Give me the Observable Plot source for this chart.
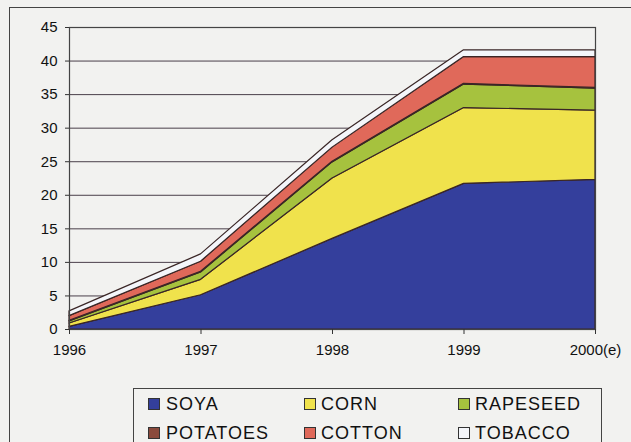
<!DOCTYPE html>
<html><head><meta charset="utf-8">
<script src="https://cdn.jsdelivr.net/npm/d3@7"></script>
<script src="https://cdn.jsdelivr.net/npm/@observablehq/plot@0.6"></script>
<style>
body{margin:0;background:#f2f2f0;font-family:"Liberation Sans",Arial,sans-serif;}
#wrap{position:relative;width:631px;height:442px;overflow:hidden;}
#border{position:absolute;left:9px;top:7px;width:700px;height:500px;border:1.5px solid #444;}
#chart{position:absolute;left:0;top:0;}
#legend{position:absolute;left:133px;top:388px;width:467px;height:80px;border:1.5px solid #444;}
.item{position:absolute;font-size:18px;color:#111;line-height:20px;letter-spacing:1px;}
.sw{position:absolute;width:10px;height:10px;border:1.5px solid #333;}
</style></head>
<body>
<div id="wrap">
  <div id="border"></div>
  <div id="chart"></div>
  <div id="legend"></div>
</div>
<script>
const years = [1996, 1997, 1998, 1999, 2000];
const yearLabels = ["1996", "1997", "1998", "1999", "2000(e)"];
const yTicks = [0, 5, 10, 15, 20, 25, 30, 35, 40, 45];
const crops = ["SOYA", "CORN", "RAPESEED", "POTATOES", "COTTON", "TOBACCO"];
const soya     = [0.4, 5.1, 13.5, 21.7, 22.3];
const corn     = [0.5, 2.3, 9.0, 11.3, 10.3];
const rapeseed = [0.3, 1.1, 2.4, 3.5, 3.3];
const potatoes = [0.1, 0.1, 0.1, 0.1, 0.1];
const cotton   = [0.7, 1.5, 2.1, 4.0, 4.6];
const tobacco  = [0.7, 1.1, 1.1, 1.0, 1.0];
const colors = ["#343f9c", "#f0e24c", "#a6c23e", "#8a4a3c", "#e0695a", "#f4f6fa"];

const series = [soya, corn, rapeseed, potatoes, cotton, tobacco];
const data = [];
crops.forEach((c, i) => years.forEach((y, j) => data.push({crop: c, year: y, value: series[i][j]})));

const chart = Plot.plot({
  width: 631, height: 370,
  marginLeft: 69, marginRight: 36, marginTop: 27, marginBottom: 41,
  style: {background: "transparent", fontFamily: "'Liberation Sans', Arial, sans-serif", color: "#111"},
  x: {domain: [1996, 2000], label: null},
  y: {domain: [0, 45], label: null},
  color: {domain: crops, range: colors},
  marks: [
    Plot.ruleY(yTicks, {stroke: "#4a3f4a", strokeWidth: 1}),
    Plot.areaY(data, {x: "year", y: "value", z: "crop", fill: "crop", stroke: "#3a2626", strokeWidth: 1.2}),
    Plot.frame({stroke: "#444", strokeWidth: 1.2}),
    Plot.axisY({ticks: yTicks, tickSize: 4, tickPadding: 8, fontSize: 15, label: null, stroke: "#333"}),
    Plot.axisX({ticks: years, tickFormat: d => yearLabels[years.indexOf(d)], tickSize: 5, tickPadding: 10, fontSize: 15, label: null, stroke: "#333"})
  ]
});
document.getElementById("chart").appendChild(chart);

const legend = document.getElementById("legend");
const colX = [14, 170, 324];
const textX = [32, 187, 341];
const rowY = [15, 44];
crops.forEach((c, i) => {
  const col = i % 3, row = Math.floor(i / 3);
  const sw = document.createElement("div");
  sw.className = "sw";
  sw.style.left = colX[col] + "px";
  sw.style.top = (rowY[row] - 6) + "px";
  sw.style.background = colors[i];
  legend.appendChild(sw);
  const t = document.createElement("div");
  t.className = "item";
  t.textContent = c;
  t.style.left = textX[col] + "px";
  t.style.top = (rowY[row] - 10) + "px";
  legend.appendChild(t);
});
</script>
</body></html>
